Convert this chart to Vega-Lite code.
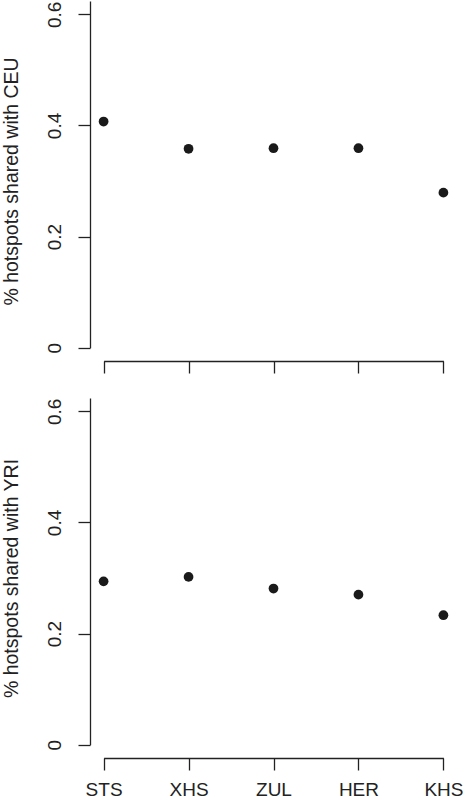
{
  "$schema": "https://vega.github.io/schema/vega-lite/v6.json",
  "padding": {"left": 1, "top": 1, "right": 0, "bottom": 0},
  "background": "white",
  "datasets": {
    "hotspots": [
      {"pop": "STS", "ceu": 0.407, "yri": 0.294},
      {"pop": "XHS", "ceu": 0.358, "yri": 0.302},
      {"pop": "ZUL", "ceu": 0.359, "yri": 0.281},
      {"pop": "HER", "ceu": 0.359, "yri": 0.270},
      {"pop": "KHS", "ceu": 0.279, "yri": 0.233}
    ]
  },
  "data": {"name": "hotspots"},
  "spacing": 24,
  "vconcat": [
    {
      "width": 367,
      "height": 360,
      "mark": {"type": "point", "filled": true, "opacity": 1, "size": 95, "color": "#1a1a1a"},
      "encoding": {
        "x": {
          "field": "pop", "type": "ordinal", "sort": null,
          "scale": {"type": "point", "padding": 0.16},
          "axis": {"title": null, "labels": false, "domainDash": [0, 13.6, 339.8, 1000]}
        },
        "y": {
          "field": "ceu", "type": "quantitative",
          "scale": {"domain": [-0.024, 0.624], "nice": false, "zero": false},
          "axis": {"title": "% hotspots shared with CEU", "values": [0, 0.2, 0.4, 0.6]}
        }
      }
    },
    {
      "width": 367,
      "height": 360,
      "mark": {"type": "point", "filled": true, "opacity": 1, "size": 95, "color": "#1a1a1a"},
      "encoding": {
        "x": {
          "field": "pop", "type": "ordinal", "sort": null,
          "scale": {"type": "point", "padding": 0.16},
          "axis": {"title": null, "labelAngle": 0, "labelBaseline": "top", "labelPadding": 10, "domainDash": [0, 13.6, 339.8, 1000]}
        },
        "y": {
          "field": "yri", "type": "quantitative",
          "scale": {"domain": [-0.024, 0.624], "nice": false, "zero": false},
          "axis": {"title": "% hotspots shared with YRI", "values": [0, 0.2, 0.4, 0.6]}
        }
      }
    }
  ],
  "config": {
    "view": {"stroke": null},
    "axis": {
      "grid": false,
      "domainColor": "#222222",
      "tickColor": "#222222",
      "domainWidth": 1.3,
      "tickWidth": 1.3,
      "tickSize": 12,
      "labelFont": "Liberation Sans",
      "labelFontSize": 19,
      "labelColor": "#222222",
      "labelOverlap": false,
      "titleFont": "Liberation Sans",
      "titleFontSize": 19.5,
      "titleFontWeight": "normal",
      "titleColor": "#222222"
    },
    "axisY": {
      "labelAngle": -90,
      "labelAlign": "center",
      "labelBaseline": "alphabetic",
      "labelPadding": 18,
      "labelExpr": "datum.value == 0 ? '0' : format(datum.value, '.1f')",
      "titlePadding": 24,
      "domainDash": [0, 13.33, 1000]
    }
  }
}
